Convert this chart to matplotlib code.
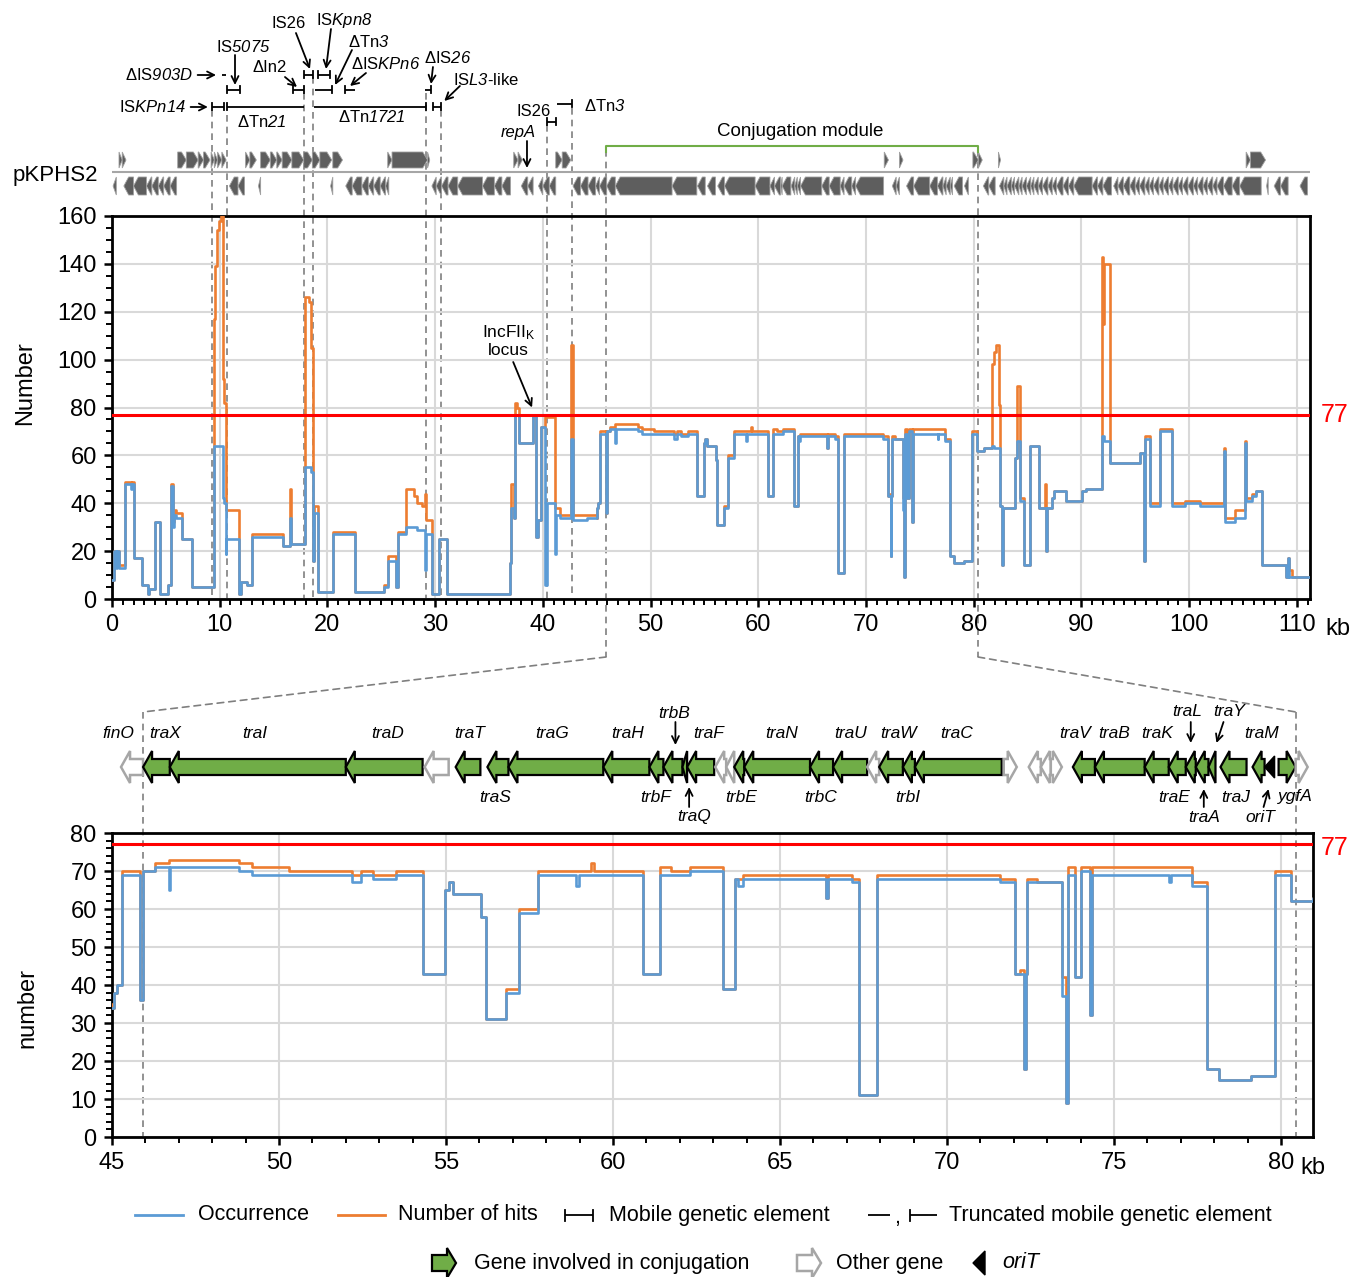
import numpy as np
import matplotlib
matplotlib.use('Agg')
import matplotlib.pyplot as plt
import matplotlib.transforms as mtransforms
from matplotlib.patches import Polygon, ConnectionPatch
from matplotlib.lines import Line2D
from matplotlib.ticker import MultipleLocator

plt.rcParams['font.family'] = ['Liberation Sans', 'DejaVu Sans']
plt.rcParams['mathtext.fontset'] = 'custom'
plt.rcParams['mathtext.rm'] = 'Liberation Sans'
plt.rcParams['mathtext.it'] = 'Liberation Sans:italic'
# sf is used for italic parts so digits stay italic too
plt.rcParams['mathtext.sf'] = 'Liberation Sans:italic'
plt.rcParams['mathtext.bf'] = 'Liberation Sans:bold'

# step profile along pKPHS2 (kb), values hold until next position
pos_kb = [0.0, 0.2, 0.4, 0.5, 0.65, 1.2, 1.75, 1.85, 2.0, 2.75,
          3.3, 3.45, 4.0, 4.45, 5.2, 5.5, 5.62, 5.72, 5.9, 6.5,
          7.4, 9.47, 9.6, 9.72, 9.94, 10.1, 10.28, 10.4, 10.55, 10.62,
          11.75, 11.95, 12.5, 12.97, 15.85, 16.5, 16.58, 17.9, 18.25, 18.45,
          18.66, 18.75, 19.1, 20.5, 22.6, 25.3, 25.6, 26.35, 26.6, 27.3,
          28.0, 28.3, 28.8, 29.05, 29.15, 29.68, 30.35, 31.1, 36.95, 37.05,
          37.35, 37.45, 37.62, 37.8, 39.05, 39.38, 39.55, 39.8, 40.2, 40.35,
          41.15, 41.25, 41.6, 42.65, 42.8, 44.1, 45.0, 45.05, 45.15, 45.3,
          45.84, 45.92, 46.28, 46.7, 46.75, 48.8, 49.2, 50.3, 52.2, 52.45,
          52.8, 53.5, 54.3, 54.97, 55.1, 55.2, 56.05, 56.2, 56.8, 57.2,
          57.75, 58.9, 58.98, 59.35, 59.42, 60.9, 61.4, 61.75, 62.3, 63.3,
          63.65, 63.75, 63.9, 66.37, 66.45, 67.15, 67.38, 67.92, 71.6, 72.03,
          72.2, 72.3, 72.36, 72.4, 72.7, 73.45, 73.55, 73.62, 73.82, 74.0,
          74.28, 74.35, 76.65, 76.72, 77.33, 77.8, 78.15, 79.1, 79.83, 80.3,
          80.95, 81.7, 81.9, 82.05, 82.35, 82.45, 82.62, 82.72, 83.8, 84.05,
          84.3, 84.7, 85.25, 86.1, 86.6, 86.75, 86.85, 87.3, 87.5, 88.6,
          90.1, 90.4, 91.9, 92.05, 92.12, 92.7, 95.4, 95.8, 95.95, 96.4,
          97.3, 98.4, 99.6, 101.0, 103.2, 103.3, 104.3, 105.2, 105.3, 105.8,
          106.2, 106.8, 109.0, 109.2, 109.3, 109.6, 111.4]
occurrence = [8, 20, 13, 20, 13, 48, 46, 48, 17, 6,
              2, 4, 32, 2, 6, 47, 30, 35, 34, 25,
              5, 64, 64, 64, 64, 64, 42, 40, 19, 25,
              2, 7, 6, 26, 22, 34, 23, 55, 55, 53,
              16, 36, 3, 27, 3, 5, 16, 5, 27, 30,
              30, 29, 29, 12, 27, 2, 25, 2, 15, 38,
              34, 77, 77, 65, 77, 26, 33, 72, 6, 40,
              19, 35, 34, 67, 33, 34, 34, 38, 40, 69,
              36, 70, 71, 65, 71, 70, 69, 69, 67, 69,
              68, 69, 43, 65, 67, 64, 58, 31, 38, 59,
              69, 66, 69, 69, 69, 43, 69, 69, 70, 39,
              68, 66, 68, 63, 68, 67, 11, 68, 67, 43,
              43, 18, 43, 67, 67, 37, 9, 69, 42, 70,
              32, 69, 67, 69, 66, 18, 15, 16, 69, 62,
              63, 64, 63, 63, 63, 39, 14, 38, 59, 66,
              41, 14, 64, 38, 38, 20, 38, 42, 45, 41,
              45, 46, 68, 68, 66, 57, 61, 16, 67, 39,
              70, 39, 40, 39, 62, 32, 34, 65, 41, 43,
              45, 14, 9, 17, 9, 9, 9]
hits = [8, 20, 14, 20, 14, 49, 48, 49, 17, 6,
        2, 4, 32, 2, 6, 48, 32, 37, 36, 25,
        5, 117, 139, 154, 158, 160, 92, 82, 45, 37,
        2, 7, 6, 27, 22, 46, 23, 126, 124, 105,
        16, 39, 3, 28, 3, 6, 18, 5, 28, 46,
        43, 40, 39, 44, 33, 2, 25, 2, 15, 48,
        34, 82, 80, 65, 77, 26, 33, 72, 76, 76,
        38, 38, 35, 106, 35, 35, 34, 38, 40, 70,
        36, 70, 72, 73, 73, 72, 71, 70, 69, 70,
        69, 70, 43, 65, 67, 64, 58, 31, 39, 60,
        70, 70, 70, 72, 70, 43, 71, 70, 71, 39,
        68, 68, 69, 63, 69, 68, 11, 69, 68, 43,
        44, 18, 43, 68, 67, 42, 9, 71, 42, 71,
        32, 71, 71, 71, 67, 18, 15, 16, 70, 62,
        63, 98, 103, 106, 81, 39, 14, 38, 59, 89,
        42, 14, 64, 38, 48, 20, 38, 42, 45, 41,
        45, 46, 143, 115, 140, 57, 61, 16, 68, 40,
        71, 40, 41, 40, 63, 34, 37, 66, 42, 44,
        45, 14, 9, 17, 12, 9, 9]
threshold = 77

# genes of pKPHS2 outside the conjugation module map (kb)
fwd_genes = [(0.65, 0.95), (0.95, 1.3), (6.1, 6.9), (6.9, 8.0), (8.0, 8.5), (8.5, 9.1),
             (9.2, 9.5), (9.5, 9.8), (9.8, 10.2), (10.2, 10.6), (12.4, 12.8), (12.8, 13.4),
             (13.8, 14.7), (14.7, 15.3), (15.3, 15.8), (15.8, 16.7), (16.7, 17.8), (17.8, 18.6),
             (18.6, 19.3), (19.3, 20.4), (20.5, 21.4), (25.6, 26.0), (26.0, 29.3), (29.3, 29.5),
             (37.3, 37.7), (37.7, 38.1), (41.2, 41.8), (41.8, 42.6), (82.3, 82.5),
             (105.3, 105.7), (105.7, 107.1)]
rev_genes = [(0.1, 0.4), (1.1, 2.0), (2.0, 3.2), (3.2, 3.7), (3.7, 4.3), (4.3, 4.8), (4.8, 5.4),
             (5.4, 6.0), (10.9, 11.7), (11.7, 12.3), (13.6, 13.8), (20.3, 20.5), (21.7, 22.3),
             (22.3, 23.2), (23.2, 23.8), (23.8, 24.3), (24.3, 24.9), (24.9, 25.4), (25.4, 25.7),
             (29.7, 30.1), (30.1, 30.6), (30.6, 31.2), (31.2, 32.1), (32.1, 34.4), (34.4, 35.5),
             (35.5, 36.2), (36.2, 37.0), (38.0, 38.6), (38.6, 39.1), (39.6, 40.0), (40.0, 40.6),
             (40.6, 41.2), (42.8, 43.5), (43.5, 44.2), (44.2, 44.9), (44.9, 45.27),
             (80.9, 81.4), (81.4, 82.0), (82.4, 82.8), (82.8, 83.1), (83.1, 83.5), (83.5, 83.8),
             (83.8, 84.2), (84.2, 84.5), (84.5, 84.9), (84.9, 85.3), (85.3, 85.6), (85.6, 86.0),
             (86.0, 86.4), (86.4, 86.9), (86.9, 87.3), (87.3, 87.7), (87.7, 88.3), (88.3, 88.8),
             (88.8, 89.3), (89.3, 91.0), (91.0, 91.5), (91.5, 92.0), (92.0, 92.8), (93.0, 93.4),
             (93.4, 93.9), (93.9, 94.5), (94.5, 95.0), (95.0, 95.4), (95.4, 95.9), (95.9, 96.3),
             (96.3, 96.7), (96.7, 97.2), (97.2, 97.6), (97.6, 98.1), (98.1, 98.5), (98.5, 99.0),
             (99.0, 99.4), (99.4, 99.9), (99.9, 100.4), (100.4, 100.8), (100.8, 101.3),
             (101.3, 101.7), (101.7, 102.2), (102.2, 102.6), (102.6, 103.2), (103.2, 104.0),
             (104.0, 104.7), (104.7, 106.7), (107.2, 107.35), (107.9, 108.5), (108.5, 109.2),
             (110.3, 111.0)]

# conjugation module map
map_name = ['finO', 'traX', 'traI', 'traD', '', 'traT', 'traS', 'traG', 'traH', 'trbF',
            'trbB', 'traQ', 'traF', '', '', 'trbE', 'traN', 'trbC', 'traU', '',
            'traW', 'trbI', 'traC', '', '', '', '', 'traV', 'traB', 'traK',
            'traE', 'traL', 'traA', 'traY', 'traJ', 'traM', 'oriT', 'ygfA', '']
map_start = [45.27, 45.93, 46.73, 52.0, 54.36, 55.29, 56.24, 56.87, 59.71, 61.09,
             61.51, 62.08, 62.22, 63.06, 63.39, 63.63, 63.93, 65.9, 66.59, 67.61,
             67.97, 68.68, 69.04, 71.7, 72.45, 72.81, 73.11, 73.77, 74.43, 75.92,
             76.64, 77.15, 77.45, 77.83, 78.19, 79.15, 79.51, 79.93, 80.44]
map_end = [45.93, 46.73, 52.0, 54.3, 55.08, 56.03, 56.87, 59.71, 61.09, 61.51,
           62.08, 62.22, 63.03, 63.39, 63.63, 63.93, 65.9, 66.59, 67.61, 67.97,
           68.68, 69.04, 71.64, 72.09, 72.81, 73.11, 73.44, 74.43, 75.92, 76.64,
           77.15, 77.45, 77.83, 78.04, 78.97, 79.51, 79.81, 80.44, 80.8]
map_strand = [-1, -1, -1, -1, -1, -1, -1, -1, -1, -1,
              -1, -1, -1, -1, -1, -1, -1, -1, -1, -1,
              -1, -1, -1, 1, -1, -1, 1, -1, -1, -1,
              -1, -1, -1, -1, -1, -1, -1, 1, 1]
map_kind = ['other', 'conj', 'conj', 'conj', 'other', 'conj', 'conj', 'conj', 'conj', 'conj',
            'conj', 'conj', 'conj', 'other', 'other', 'conj', 'conj', 'conj', 'conj', 'other',
            'conj', 'conj', 'conj', 'other', 'other', 'other', 'other', 'conj', 'conj', 'conj',
            'conj', 'conj', 'conj', 'conj', 'conj', 'conj', 'oriT', 'conj', 'other']

# mobile genetic elements (kb)
mge_start = [9.29, 10.68, 18.75, 29.8, 29.06, 10.68, 10.2, 16.8, 17.83, 19.1, 18.85, 21.6, 40.39, 41.3]
mge_end = [10.4, 17.83, 29.15, 30.55, 29.6, 11.88, 10.6, 17.83, 18.66, 20.2, 20.4, 22.6, 41.2, 42.71]
mge_ends = ['both', 'left', 'right', 'both', 'right', 'both', 'none', 'both', 'both', 'both',
            'right', 'left', 'both', 'right']
mge_row = [107, 107, 107, 107, 90, 90, 75, 90, 75, 75, 90, 90, 122, 104]
boundaries = [9.29, 10.68, 17.83, 18.66, 29.15, 30.55, 40.39, 42.71, 45.87, 80.41]
boundary_top = [110, 115, 93, 77, 93, 110, 125, 108, 150, 150]

BLUE, ORANGE, GREEN = '#5B9BD5', '#ED7D31', '#70AD47'
DASH = '#7f7f7f'
W, H = 1354, 1277


def fx(p):
    return p / W


def fy(p):
    return 1 - p / H


def arrow_xy(s, e, strand, yc, body, head, hlen):
    hl = min(hlen, e - s)
    b, h = body / 2, head / 2
    if strand > 0:
        return [(s, yc - b), (e - hl, yc - b), (e - hl, yc - h), (e, yc),
                (e - hl, yc + h), (e - hl, yc + b), (s, yc + b)]
    return [(e, yc - b), (s + hl, yc - b), (s + hl, yc - h), (s, yc),
            (s + hl, yc + h), (s + hl, yc + b), (e, yc + b)]


def bracket(ax, s, e, y, ends, th=7, lw=1.3):
    ax.plot([s, e], [y, y], color='k', lw=lw, solid_capstyle='butt', clip_on=False)
    if ends in ('both', 'left'):
        ax.plot([s, s], [y - th / 2, y + th / 2], color='k', lw=lw, clip_on=False)
    if ends in ('both', 'right'):
        ax.plot([e, e], [y - th / 2, y + th / 2], color='k', lw=lw, clip_on=False)


def arr(ax, x0, y0, x1, y1):
    ax.annotate('', xy=(x1, y1), xytext=(x0, y0),
                arrowprops=dict(arrowstyle='->,head_length=0.5,head_width=0.25',
                                color='k', lw=1.3, shrinkA=0, shrinkB=0),
                annotation_clip=False)


def style(ax, xmaj, ymaj, ymin):
    ax.set_facecolor('none')
    ax.xaxis.set_major_locator(MultipleLocator(xmaj))
    ax.xaxis.set_minor_locator(MultipleLocator(1))
    ax.yaxis.set_major_locator(MultipleLocator(ymaj))
    ax.yaxis.set_minor_locator(MultipleLocator(ymin))
    ax.grid(True, which='major', color='#d9d9d9', lw=1.5)
    ax.set_axisbelow(True)
    for sp in ax.spines.values():
        sp.set_linewidth(2)
        sp.set_color('k')
    ax.tick_params(which='major', direction='out', length=6, width=1.8, labelsize=17, pad=5)
    ax.tick_params(which='minor', direction='out', length=4, width=1.4)


fig = plt.figure(figsize=(W / 100, H / 100), dpi=100)
ax1 = fig.add_axes([fx(112), fy(599), fx(1310) - fx(112), fy(216) - fy(599)])
ax2 = fig.add_axes([fx(112), fy(1137), fx(1313) - fx(112), fy(833) - fy(1137)])
axg = fig.add_axes([fx(112), fy(214), fx(1310) - fx(112), fy(0) - fy(214)])
axm = fig.add_axes([fx(112), fy(840), fx(1313) - fx(112), fy(690) - fy(840)])
ov = fig.add_axes([0, 0, 1, 1])

# coverage plots
for ax, xlim, ylim in ((ax1, (0, 111.23), (0, 160)), (ax2, (45, 80.96), (0, 80))):
    ax.step(pos_kb, hits, where='post', color=ORANGE, lw=1.9, zorder=3)
    ax.step(pos_kb, occurrence, where='post', color=BLUE, lw=1.9, zorder=3)
    ax.axhline(threshold, color='#ff0000', lw=2.2, zorder=4)
    ax.set_xlim(*xlim)
    ax.set_ylim(*ylim)
style(ax1, 10, 20, 5)
style(ax2, 5, 10, 2)

ax1.text(36.8, 108, 'IncFII$_\\mathrm{K}$\nlocus', ha='center', va='center', fontsize=12.5,
         linespacing=1.1)
arr(ax1, 37.25, 99, 39.0, 80)

# gene track of the whole plasmid
axg.set_xlim(0, 111.23)
axg.set_ylim(214, 0)
axg.axis('off')
axg.plot([0, 111.23], [172, 172], color='#a6a6a6', lw=1.5)
top_fwd = list(fwd_genes) + [(s, e) for s, e, st, k in zip(map_start, map_end, map_strand, map_kind)
                             if st > 0 and k != 'oriT']
top_rev = list(rev_genes) + [(s, e) for s, e, st, k in zip(map_start, map_end, map_strand, map_kind)
                             if st < 0 and k != 'oriT']
for s, e in top_fwd:
    axg.add_patch(Polygon(arrow_xy(s, e, 1, 160, 16, 16, 0.45), closed=True,
                          fc='#5e5e5e', ec='#a0a0a0', lw=0.6))
for s, e in top_rev:
    axg.add_patch(Polygon(arrow_xy(s, e, -1, 186, 18, 18, 0.45), closed=True,
                          fc='#5e5e5e', ec='#a0a0a0', lw=0.6))

for s, e, ends, y in zip(mge_start, mge_end, mge_ends, mge_row):
    bracket(axg, s, e, y, ends)

fs = 12
axg.text(6.87, 107, 'IS$\\mathsf{KPn14}$', ha='right', va='center', fontsize=fs)
arr(axg, 7.3, 107, 8.9, 107)
axg.text(13.93, 122, 'ΔTn$\\mathsf{21}$', ha='center', va='center', fontsize=fs)
axg.text(24.14, 117, 'ΔTn$\\mathsf{1721}$', ha='center', va='center', fontsize=fs)
axg.text(31.66, 80, 'IS$\\mathsf{L3}$-like', ha='left', va='center', fontsize=fs)
arr(axg, 32.3, 86, 30.85, 101)
axg.text(31.2, 58, 'ΔIS$\\mathsf{26}$', ha='center', va='center', fontsize=fs)
arr(axg, 29.8, 67, 29.62, 84)
axg.text(12.16, 47, 'IS$\\mathsf{5075}$', ha='center', va='center', fontsize=fs)
arr(axg, 11.42, 55, 11.42, 85)
axg.text(7.52, 75, 'ΔIS$\\mathsf{903D}$', ha='right', va='center', fontsize=fs)
arr(axg, 7.95, 75, 9.66, 75)
axg.text(14.67, 68, 'ΔIn2', ha='center', va='center', fontsize=fs)
arr(axg, 16.06, 77, 17.18, 87)
axg.text(16.43, 24, 'IS26', ha='center', va='center', fontsize=fs)
arr(axg, 17.08, 33, 18.38, 69)
axg.text(21.54, 20, 'IS$\\mathsf{Kpn8}$', ha='center', va='center', fontsize=fs)
arr(axg, 20.33, 29, 19.87, 69)
axg.text(23.86, 42, 'ΔTn$\\mathsf{3}$', ha='center', va='center', fontsize=fs)
arr(axg, 22.28, 50, 20.71, 85)
axg.text(25.44, 64, 'ΔIS$\\mathsf{KPn6}$', ha='center', va='center', fontsize=fs)
arr(axg, 23.58, 73, 22.1, 86)
axg.text(39.18, 112, 'IS26', ha='center', va='center', fontsize=fs)
axg.text(43.83, 106, 'ΔTn$\\mathsf{3}$', ha='left', va='center', fontsize=fs)
axg.text(37.7, 132, 'repA', ha='center', va='center', fontsize=fs, fontstyle='italic')
arr(axg, 38.53, 141, 38.53, 168)

axg.plot([45.87, 45.87, 80.41, 80.41], [152, 146, 146, 152], color=GREEN, lw=1.5)
axg.text(63.88, 131, 'Conjugation module', ha='center', va='center', fontsize=13.5)

# dashed guides
tr1 = mtransforms.blended_transform_factory(ax1.transData, fig.transFigure)
tr2 = mtransforms.blended_transform_factory(ax2.transData, fig.transFigure)
dash_kw = dict(color=DASH, lw=1.2, ls=(0, (4, 3)), zorder=-1)
for x, y0 in zip(boundaries, boundary_top):
    y1 = 657 if x > 45 else 599
    fig.add_artist(Line2D([x, x], [fy(y0), fy(y1)], transform=tr1, **dash_kw))
for xa, xb in ((45.87, 45.93), (80.41, 80.45)):
    fig.add_artist(ConnectionPatch(xyA=(xa, fy(657)), coordsA=tr1, xyB=(xb, fy(712)),
                                   coordsB=tr2, color=DASH, lw=1.2, ls=(0, (4, 3))))
    fig.add_artist(Line2D([xb, xb], [fy(712), fy(1137)], transform=tr2, **dash_kw))

# conjugation module map
axm.set_xlim(45, 80.96)
axm.set_ylim(840, 690)
axm.axis('off')
for s, e, st, k in zip(map_start, map_end, map_strand, map_kind):
    if k == 'oriT':
        axm.add_patch(Polygon([(s, 767), (e, 756), (e, 778)], closed=True, fc='k', ec='k', lw=1))
    elif k == 'conj':
        axm.add_patch(Polygon(arrow_xy(s, e, st, 767, 16, 32, 0.27), closed=True,
                              fc=GREEN, ec='k', lw=1.6, joinstyle='miter'))
    else:
        axm.add_patch(Polygon(arrow_xy(s, e, st, 767, 16, 32, 0.27), closed=True,
                              fc='white', ec='#a6a6a6', lw=1.8, joinstyle='miter'))

map_label = {'finO': (45.18, 733), 'traX': (46.6, 733), 'traI': (49.28, 733), 'traD': (53.25, 733),
             'traT': (55.7, 733), 'traG': (58.19, 733), 'traH': (60.43, 733), 'trbB': (61.84, 713),
             'traF': (62.85, 733), 'traN': (65.04, 733), 'traU': (67.1, 733), 'traW': (68.56, 733),
             'traC': (70.3, 733), 'traV': (73.83, 733), 'traB': (75.0, 733), 'traK': (76.28, 733),
             'traL': (77.2, 712), 'traY': (78.46, 712), 'traM': (79.42, 733),
             'trbF': (61.27, 797), 'traS': (56.48, 797), 'traQ': (62.43, 817), 'trbE': (63.84, 797),
             'trbC': (66.23, 797), 'trbI': (68.83, 797), 'traE': (76.79, 797), 'traA': (77.69, 817),
             'traJ': (78.64, 797), 'oriT': (79.39, 817), 'ygfA': (80.44, 797)}
for name in map_name:
    if name:
        x, y = map_label[name]
        axm.text(x, y, name, ha='center', va='center', fontsize=12.5, fontstyle='italic')
arr(axm, 61.87, 722, 61.87, 745)
arr(axm, 77.3, 722, 77.3, 743)
arr(axm, 78.28, 722, 78.07, 743)
arr(axm, 62.28, 807, 62.28, 787)
arr(axm, 77.69, 807, 77.69, 789)
arr(axm, 79.48, 807, 79.63, 789)

# overlay: labels and legend (pixel coordinates)
ov.set_xlim(0, W)
ov.set_ylim(H, 0)
ov.axis('off')
ov.text(55, 175, 'pKPHS2', ha='center', va='center', fontsize=16)
ov.text(25, 383, 'Number', rotation=90, ha='center', va='center', fontsize=17)
ov.text(27, 1008, 'number', rotation=90, ha='center', va='center', fontsize=17)
ov.text(1338, 629, 'kb', ha='center', va='center', fontsize=17)
ov.text(1313, 1168, 'kb', ha='center', va='center', fontsize=17)
ov.text(1335, 415, '77', ha='center', va='center', fontsize=18, color='#ff0000')
ov.text(1335, 848, '77', ha='center', va='center', fontsize=18, color='#ff0000')

ly1, ly2, lfs = 1215, 1263, 15.5
ov.plot([135, 183], [ly1, ly1], color=BLUE, lw=2)
ov.text(198, ly1, 'Occurrence', va='center', fontsize=lfs)
ov.plot([338, 385], [ly1, ly1], color=ORANGE, lw=2)
ov.text(398, ly1, 'Number of hits', va='center', fontsize=lfs)
bracket(ov, 565, 593, ly1, 'both', th=11)
ov.text(609, ly1, 'Mobile genetic element', va='center', fontsize=lfs)
bracket(ov, 868, 890, ly1, 'none', th=11)
ov.text(897, ly1 + 2, ',', va='center', ha='center', fontsize=lfs)
bracket(ov, 910, 937, ly1, 'left', th=11)
ov.text(949, ly1, 'Truncated mobile genetic element', va='center', fontsize=lfs)
ov.add_patch(Polygon(arrow_xy(432, 456, 1, ly2, 16, 30, 9), closed=True, fc=GREEN, ec='k', lw=1.6))
ov.text(474, ly2, 'Gene involved in conjugation', va='center', fontsize=lfs)
ov.add_patch(Polygon(arrow_xy(797, 821, 1, ly2, 16, 30, 9), closed=True, fc='white', ec='#a6a6a6', lw=1.8))
ov.text(836, ly2, 'Other gene', va='center', fontsize=lfs)
ov.add_patch(Polygon([(973, ly2), (985, ly2 - 12), (985, ly2 + 12)], closed=True, fc='k', ec='k'))
ov.text(1002, ly2, 'oriT', va='center', fontsize=lfs, fontstyle='italic')

fig.savefig('out.png', dpi=100)
